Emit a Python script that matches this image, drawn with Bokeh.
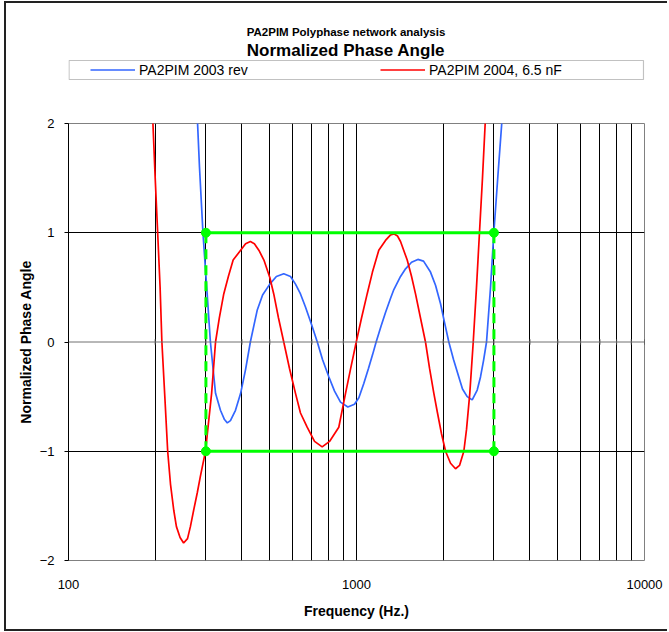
from bokeh.plotting import figure
from bokeh.layouts import column
from bokeh.models import (FixedTicker, Legend, LegendItem, Label, BoxAnnotation,
                          Span, PrintfTickFormatter, Range1d)
from bokeh.embed import file_html
from bokeh.resources import INLINE

# ---- data ----
blue_freq = [280, 285, 293, 303, 311, 324, 337, 348, 356, 365, 380, 396, 412, 428, 452, 472,
             500, 527, 559, 590, 614, 639, 665, 698, 731, 762, 802, 839, 880, 933, 984,
             1019, 1060, 1101, 1136, 1170, 1215, 1261, 1313, 1348, 1422, 1480, 1553, 1633,
             1709, 1807, 1881, 1958, 2021, 2092, 2172, 2266, 2334, 2423, 2522, 2625, 2695,
             2761, 2828, 2920, 2998, 3095, 3206]
blue_val = [2.06, 1.6, 1.0, 0.44, 0.0, -0.47, -0.625, -0.71, -0.74, -0.72, -0.625, -0.47,
            -0.25, 0.0, 0.29, 0.43, 0.53, 0.6, 0.625, 0.6, 0.53, 0.44, 0.32, 0.16, 0.0,
            -0.16, -0.32, -0.45, -0.55, -0.595, -0.57, -0.51, -0.38, -0.24, -0.12, 0.0, 0.14,
            0.27, 0.4, 0.48, 0.6, 0.67, 0.73, 0.756, 0.74, 0.64, 0.52, 0.35, 0.18, 0.0, -0.16,
            -0.32, -0.43, -0.50, -0.53, -0.44, -0.32, -0.17, 0.0, 0.5, 1.0, 1.51, 2.06]

red_freq = [196, 200, 204, 208, 211, 216, 221, 226, 232, 237, 244, 251, 259, 265, 272, 280,
            287, 299, 306, 314, 324, 334, 346, 359, 373, 396, 412, 428, 442, 458, 477, 500,
            516, 536, 559, 585, 614, 639, 674, 715, 760, 806, 868, 916, 953, 998, 1041,
            1089, 1136, 1195, 1261, 1313, 1348, 1388, 1422, 1500, 1553, 1603, 1668, 1736,
            1793, 1856, 1911, 1973, 2038, 2121, 2207, 2279, 2359, 2410, 2474, 2543, 2610,
            2673, 2738, 2805]
red_val = [2.06, 1.5, 1.0, 0.5, 0.0, -0.5, -1.0, -1.3, -1.54, -1.69, -1.79, -1.84, -1.8,
           -1.69, -1.54, -1.38, -1.23, -1.0, -0.75, -0.47, 0.0, 0.22, 0.44, 0.6, 0.75, 0.84,
           0.9, 0.92, 0.9, 0.84, 0.75, 0.59, 0.44, 0.22, 0.0, -0.24, -0.47, -0.65, -0.78,
           -0.91, -0.96, -0.91, -0.78, -0.47, -0.25, 0.0, 0.22, 0.44, 0.64, 0.84, 0.93, 0.98,
           0.99, 0.97, 0.92, 0.75, 0.6, 0.44, 0.22, 0.0, -0.24, -0.47, -0.65, -0.84, -1.0,
           -1.11, -1.16, -1.13, -1.0, -0.8, -0.47, 0.0, 0.5, 1.0, 1.5, 2.06]

limit_freq = [300, 3000]
upper_limit = [1, 1]
lower_limit = [-1, -1]

x_major = [100, 1000, 10000]
x_minor = [200, 300, 400, 500, 600, 700, 800, 900,
           2000, 3000, 4000, 5000, 6000, 7000, 8000, 9000]
y_ticks = [-2, -1, 0, 1, 2]

series_names = ["PA2PIM 2003 rev", "PA2PIM 2004, 6.5 nF"]
title_text = "Normalized Phase Angle"
subtitle_text = "PA2PIM Polyphase network analysis"

FONT = "Liberation Sans"
BLUE = "#3366FF"
RED = "#FF0000"
GREEN = "#00FF00"
W = 661
BL, BR = 62, 23          # left / right borders shared by both figures (frames align)
TOP_H = 112
MAIN_H = 514

# ---------------- header (titles + legend) ----------------
# data coordinates of this header equal page pixels (frame spans x 68..644, y 3..115)
top = figure(width=W, height=TOP_H, x_range=Range1d(68, 644), y_range=Range1d(115, 3),
             output_backend="svg", toolbar_location=None, title=None,
             x_axis_location=None, y_axis_location=None,
             min_border_left=BL, min_border_right=BR, min_border_top=0, min_border_bottom=0)
top.outline_line_color = None
top.grid.visible = False
top.background_fill_color = "white"
top.border_fill_color = "white"

top.add_layout(Label(x=345.5, y=31, text=subtitle_text, text_align="center",
                     text_baseline="middle", text_font=FONT, text_font_size="11.5px",
                     text_font_style="bold", text_color="black"))
top.add_layout(Label(x=345.5, y=50, text=title_text, text_align="center",
                     text_baseline="middle", text_font=FONT, text_font_size="17px",
                     text_font_style="bold", text_color="black"))

top.add_layout(BoxAnnotation(left=68.5, right=643, top=60, bottom=79, fill_color="white",
                             fill_alpha=1, line_color="#333333", line_width=1.2))

# legend keys (off-screen samples carrying the series styles)
blue_key = top.line(x=[0, 1], y=[-50, -50], line_color=BLUE, line_width=1.7)
red_key = top.line(x=[0, 1], y=[-50, -50], line_color=RED, line_width=1.7)
legend = Legend(items=[LegendItem(label=series_names[0], renderers=[blue_key]),
                       LegendItem(label=series_names[1], renderers=[red_key])],
                orientation="horizontal", location=(22, 115 - 79),
                glyph_width=45, glyph_height=19, label_height=19,
                label_standoff=4, label_width=200, spacing=41,
                padding=0, margin=0, border_line_color=None, background_fill_alpha=0,
                label_text_font=FONT, label_text_font_size="14px", label_text_color="black")
top.add_layout(legend)

# ---------------- main chart ----------------
p = figure(width=W, height=MAIN_H, x_axis_type="log", x_range=(100, 10000), y_range=(-2, 2),
           output_backend="svg", toolbar_location=None, title=None,
           min_border_left=BL, min_border_right=BR, min_border_top=8, min_border_bottom=69)
p.background_fill_color = "white"
p.border_fill_color = "white"
p.outline_line_color = "#808080"
p.outline_line_width = 1

p.xaxis.ticker = FixedTicker(ticks=x_major, minor_ticks=x_minor)
p.xaxis.formatter = PrintfTickFormatter(format="%d")
p.xaxis.axis_line_color = None
p.xaxis.major_tick_line_color = None
p.xaxis.minor_tick_line_color = None
p.xaxis.major_label_standoff = 13
p.xaxis.major_label_text_font = FONT
p.xaxis.major_label_text_font_size = "13px"
p.xaxis.major_label_text_color = "black"
p.xaxis.axis_label = "Frequency (Hz.)"
p.xaxis.axis_label_standoff = 11
p.xaxis.axis_label_text_font = FONT
p.xaxis.axis_label_text_font_size = "14px"
p.xaxis.axis_label_text_font_style = "bold"
p.xaxis.axis_label_text_color = "black"

p.yaxis.ticker = FixedTicker(ticks=y_ticks)
p.yaxis.axis_line_color = "black"
p.yaxis.major_tick_out = 4
p.yaxis.major_tick_in = 0
p.yaxis.major_tick_line_color = "black"
p.yaxis.minor_tick_line_color = None
p.yaxis.major_label_standoff = 10
p.yaxis.major_label_text_font = FONT
p.yaxis.major_label_text_font_size = "13px"
p.yaxis.major_label_text_color = "black"
p.yaxis.axis_label = "Normalized Phase Angle"
p.yaxis.axis_label_standoff = 3
p.yaxis.axis_label_text_font = FONT
p.yaxis.axis_label_text_font_size = "14px"
p.yaxis.axis_label_text_font_style = "bold"
p.yaxis.axis_label_text_color = "black"

p.xgrid.grid_line_color = "black"
p.xgrid.minor_grid_line_color = "black"
p.ygrid.ticker = FixedTicker(ticks=[-1, 1])
p.ygrid.grid_line_color = "black"
p.add_layout(Span(location=0, dimension="width", line_color="#707070", line_width=1))
tick_pos = x_minor + x_major
p.segment(x0=tick_pos, y0=[0.025] * len(tick_pos), x1=tick_pos, y1=[-0.025] * len(tick_pos),
          line_color="#404040", line_width=1)

p.line(blue_freq, blue_val, line_color=BLUE, line_width=1.7)
p.line(red_freq, red_val, line_color=RED, line_width=1.7)

p.segment(x0=limit_freq, y0=lower_limit, x1=limit_freq, y1=upper_limit,
          line_color=GREEN, line_width=3, line_dash="10 6")
p.line(limit_freq, upper_limit, line_color=GREEN, line_width=3)
p.line(limit_freq, lower_limit, line_color=GREEN, line_width=3)
p.scatter(limit_freq, upper_limit, size=9, marker="circle", fill_color=GREEN, line_color=GREEN)
p.scatter(limit_freq, lower_limit, size=9, marker="circle", fill_color=GREEN, line_color=GREEN)

layout = column(top, p, spacing=0,
                styles={"margin-left": "4px", "margin-top": "1px",
                        "border-left": "2px solid #222222", "border-top": "2px solid #222222",
                        "border-bottom": "2px solid #222222"})

open("out.html", "w").write(file_html(layout, INLINE))
